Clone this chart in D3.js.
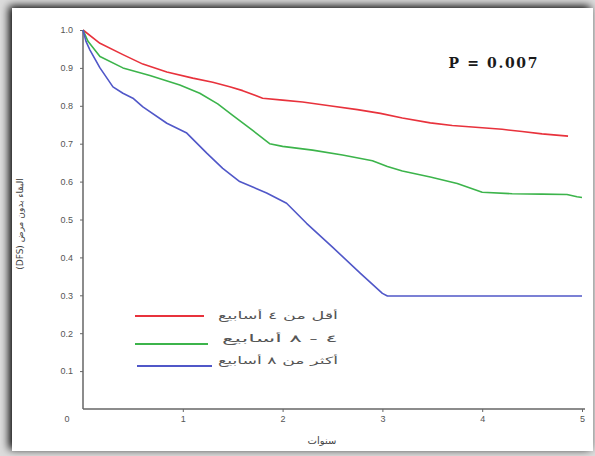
<!DOCTYPE html>
<html><head><meta charset="utf-8">
<script src="https://cdn.jsdelivr.net/npm/d3@7"></script>
<style>html,body{margin:0;padding:0;background:#fff;}svg{display:block;}</style>
</head><body>
<svg id="c" width="595" height="456"></svg>
<script>
const yTicks = [0.1,0.2,0.3,0.4,0.5,0.6,0.7,0.8,0.9,1.0];
const xTicks = [1,2,3,4,5];
const seriesNames = ["أقل من ٤ أسابيع","٤ - ٨ أسابيع","أكثر من ٨ أسابيع"];
const seriesColors = ["#e8323c","#3cb44b","#5057c8"];
const redT = [0,0.17,0.4,0.6,0.84,1.1,1.3,1.47,1.6,1.8,2.0,2.2,2.47,2.75,2.98,3.2,3.48,3.7,4.0,4.2,4.4,4.6,4.86];
const redV = [1.0,0.965,0.935,0.91,0.889,0.873,0.862,0.85,0.84,0.82,0.815,0.81,0.80,0.79,0.78,0.768,0.755,0.748,0.742,0.738,0.732,0.726,0.72];
const greenT = [0,0.05,0.17,0.4,0.67,0.97,1.17,1.35,1.5,1.7,1.87,2.0,2.3,2.6,2.9,3.05,3.2,3.48,3.75,4.0,4.3,4.6,4.85,4.95,5.0];
const greenV = [1.0,0.97,0.93,0.9,0.88,0.855,0.833,0.805,0.775,0.735,0.70,0.693,0.683,0.67,0.655,0.64,0.628,0.612,0.595,0.572,0.568,0.567,0.566,0.56,0.558];
const blueT = [0,0.03,0.07,0.17,0.3,0.4,0.5,0.6,0.84,1.04,1.24,1.4,1.57,1.84,2.04,2.24,2.5,2.78,3.0,3.05,5.0];
const blueV = [1.0,0.97,0.947,0.90,0.85,0.833,0.82,0.797,0.754,0.728,0.675,0.635,0.60,0.57,0.543,0.49,0.427,0.358,0.305,0.298,0.298];
const pText = "P = 0.007";
const xLabel = "سنوات";
const yLabel = "البقاء بدون مرض (DFS)";

const svg = d3.select("#c");
const defs = svg.append("defs");
const f = defs.append("filter").attr("id","sh").attr("x","-5%").attr("y","-5%").attr("width","110%").attr("height","110%");
f.append("feGaussianBlur").attr("in","SourceAlpha").attr("stdDeviation",4).attr("result","b");
f.append("feOffset").attr("in","b").attr("dx",-3).attr("dy",-2).attr("result","o");
const m = f.append("feMerge"); m.append("feMergeNode").attr("in","o"); m.append("feMergeNode").attr("in","SourceGraphic");

svg.append("rect").attr("width",595).attr("height",456).attr("fill","#dcdcdc");
svg.append("rect").attr("x",12).attr("y",8).attr("width",581).attr("height",443).attr("fill","#fff").attr("filter","url(#sh)");

const x = d3.scaleLinear().domain([0,5]).range([83,582]);
const y = d3.scaleLinear().domain([0,1]).range([409,30]);
const axisColor = "#666";

const gy = svg.append("g").attr("transform","translate(83,0)")
  .call(d3.axisLeft(y).tickValues(yTicks).tickFormat(d3.format(".1f")).tickSize(3).tickSizeOuter(0));
const gx = svg.append("g").attr("transform","translate(0,409)")
  .call(d3.axisBottom(x).tickValues(xTicks).tickFormat(d3.format("d")).tickSize(3).tickSizeOuter(0));
[gy,gx].forEach(g=>{
  g.select(".domain").attr("stroke",axisColor).attr("stroke-width",1.5);
  g.selectAll(".tick line").attr("stroke",axisColor);
  g.selectAll(".tick text").attr("fill","#555").attr("font-family","Liberation Sans, Arial, sans-serif").attr("font-size",9);
});
gy.select(".domain").attr("d","M0,30V409");
gx.select(".domain").attr("d","M83,0H585");
gy.selectAll(".tick text").attr("x",-10);
gx.selectAll(".tick text").attr("y",7);
svg.append("text").attr("x",67).attr("y",422).attr("text-anchor","middle")
  .attr("font-family","Liberation Sans, Arial, sans-serif").attr("font-size",9).attr("fill","#555").text("0");

const line = d3.line().x(d=>x(d[0])).y(d=>y(d[1]));
const series = [d3.zip(redT,redV), d3.zip(greenT,greenV), d3.zip(blueT,blueV)];
series.forEach((s,i)=>{
  svg.append("path").datum(s).attr("d",line).attr("fill","none")
    .attr("stroke",seriesColors[i]).attr("stroke-width",1.6).attr("stroke-linejoin","round");
});

const lg = [{y:316,x1:135,x2:204,ty:319},{y:344,x1:135,x2:208,ty:342},{y:366,x1:137,x2:212,ty:364}];
lg.forEach((l,i)=>{
  svg.append("line").attr("x1",l.x1).attr("x2",l.x2).attr("y1",l.y).attr("y2",l.y)
    .attr("stroke",seriesColors[i]).attr("stroke-width",2);
  svg.append("text").attr("x",338).attr("y",l.ty).attr("text-anchor","start").attr("direction","rtl")
    .attr("textLength",i===1?116:120).attr("lengthAdjust","spacingAndGlyphs")
    .attr("font-family","DejaVu Sans, sans-serif").attr("font-size",10).attr("fill","#555").text(seriesNames[i]);
});

svg.append("text").attr("x",493).attr("y",68).attr("text-anchor","middle")
  .attr("font-family","DejaVu Serif, serif").attr("font-weight","bold").attr("font-size",14).attr("fill","#1a1a1a")
  .attr("textLength",89).attr("lengthAdjust","spacing").text(pText);

svg.append("text").attr("x",322).attr("y",444).attr("text-anchor","middle").attr("direction","rtl")
  .attr("font-family","DejaVu Sans, sans-serif").attr("font-size",10).attr("fill","#444").text(xLabel);

svg.append("text").attr("transform","translate(23,224) rotate(-90)").attr("text-anchor","middle").attr("direction","rtl")
  .attr("font-family","DejaVu Sans, sans-serif").attr("font-size",9).attr("fill","#444").text(yLabel);
</script>
</body></html>
